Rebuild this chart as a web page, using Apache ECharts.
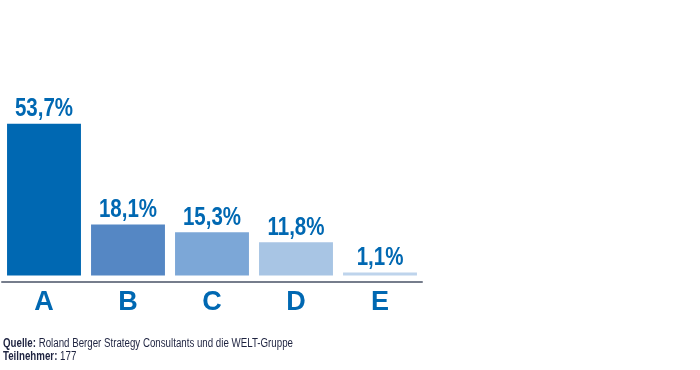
<!DOCTYPE html>
<html>
<head>
<meta charset="utf-8">
<script src="https://cdn.jsdelivr.net/npm/echarts@6/dist/echarts.min.js"></script>
<style>html,body{margin:0;padding:0;background:#fff}#c{width:700px;height:370px}</style>
</head>
<body>
<div id="c"></div>
<script>
const categories = ['A', 'B', 'C', 'D', 'E'];
const values = [53.7, 18.1, 15.3, 11.8, 1.1];
const barColors = ['#0068B2', '#5587C4', '#7CA7D7', '#A8C5E4', '#BED4EC'];
const sourceLabel = 'Quelle:';
const sourceText = ' Roland Berger Strategy Consultants und die WELT-Gruppe';
const participantsLabel = 'Teilnehmer:';
const participantsText = ' 177';

const font = '"Liberation Sans", Arial, sans-serif';
const fmt = v => v.toFixed(1).replace('.', ',') + '%';
const chart = echarts.init(document.getElementById('c'), null, {renderer: 'canvas'});
chart.setOption({
  animation: false,
  grid: {left: 2, width: 420, top: 106, bottom: 370 - 281.5},
  xAxis: {
    type: 'category',
    data: categories,
    axisLine: {onZero: false, lineStyle: {color: '#767d8c', width: 2}},
    axisTick: {show: false},
    axisLabel: {color: '#0068B2', fontSize: 27, fontWeight: 'bold', fontFamily: font, margin: 8}
  },
  yAxis: {
    type: 'value', min: -2.1, max: 60,
    show: false, splitLine: {show: false}
  },
  series: [{
    type: 'bar',
    barCategoryGap: '12%',
    data: values.map((v, i) => ({value: v, itemStyle: {color: barColors[i]}}))
  }, {
    type: 'custom',
    data: values.map((v, i) => [i, v]),
    renderItem: (params, api) => {
      const p = api.coord([api.value(0), api.value(1)]);
      return {
        type: 'text', x: p[0], y: p[1] - 2, scaleX: 0.82,
        style: {
          text: fmt(api.value(1)), fill: '#0068B2',
          font: 'bold 25px ' + font, align: 'center', verticalAlign: 'bottom'
        }
      };
    }
  }],
  graphic: [{
    type: 'text', left: 3, top: 338, scaleX: 0.81,
    style: {
      text: '{b|' + sourceLabel + '}{n|' + sourceText + '}\n{b|' + participantsLabel + '}{n|' + participantsText + '}',
      rich: {
        b: {fontFamily: font, fontSize: 12, fontWeight: 'bold', fill: '#1e2340', lineHeight: 13},
        n: {fontFamily: font, fontSize: 12, fill: '#1e2340', lineHeight: 13}
      }
    }
  }]
});
</script>
</body>
</html>
